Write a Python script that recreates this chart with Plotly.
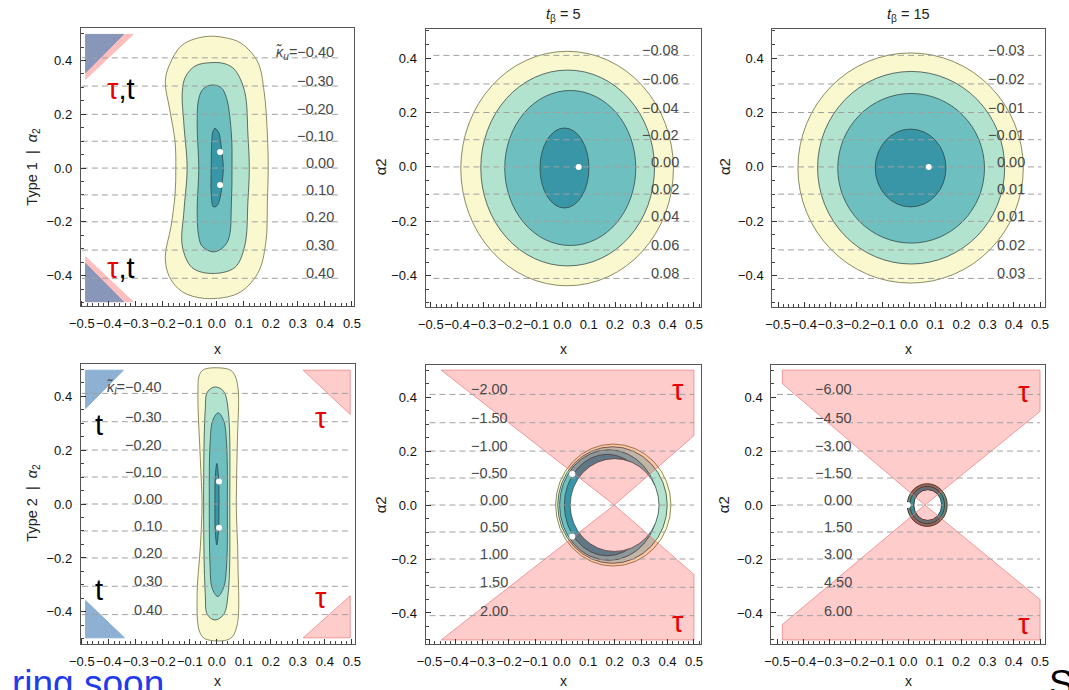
import plotly.graph_objects as go

# ---------------- data ----------------
X_TICKS = [-0.5, -0.4, -0.3, -0.2, -0.1, 0.0, 0.1, 0.2, 0.3, 0.4, 0.5]
Y_TICKS = [-0.4, -0.2, 0.0, 0.2, 0.4]
LEVEL_Y = [0.41, 0.305, 0.2, 0.1, 0.0, -0.1, -0.2, -0.305, -0.41]

KU_LEVELS = [-0.40, -0.30, -0.20, -0.10, 0.00, 0.10, 0.20, 0.30, 0.40]
P2_LEVELS = [-0.08, -0.06, -0.04, -0.02, 0.00, 0.02, 0.04, 0.06, 0.08]
P3_LEVELS = [-0.03, -0.02, -0.01, -0.01, 0.00, 0.01, 0.01, 0.02, 0.03]
KL_LEVELS = [-0.40, -0.30, -0.20, -0.10, 0.00, 0.10, 0.20, 0.30, 0.40]
P5_LEVELS = [-2.00, -1.50, -1.00, -0.50, 0.00, 0.50, 1.00, 1.50, 2.00]
P6_LEVELS = [-6.00, -4.50, -3.00, -1.50, 0.00, 1.50, 3.00, 4.50, 6.00]

# panel 1 (Type 1, tb=1) contour outlines, outer -> inner
P1_C1_X = [-0.043, 0.03, 0.09, 0.151, 0.175, 0.187, 0.19, 0.187, 0.181, 0.151, 0.078, -0.043, -0.128, -0.176, -0.191, -0.17, -0.155, -0.152, -0.155, -0.175, -0.191, -0.176, -0.128]
P1_C1_Y = [0.489, 0.485, 0.464, 0.395, 0.284, 0.123, 0.0, -0.123, -0.28, -0.392, -0.466, -0.485, -0.46, -0.404, -0.33, -0.218, -0.1, 0.0, 0.1, 0.22, 0.321, 0.383, 0.458]
P1_C2_X = [-0.025, 0.03, 0.066, 0.103, 0.115, 0.12, 0.115, 0.103, 0.066, -0.019, -0.092, -0.128, -0.122, -0.11, -0.122, -0.128, -0.116, -0.08]
P1_C2_Y = [0.392, 0.388, 0.366, 0.284, 0.123, 0.0, -0.123, -0.29, -0.37, -0.392, -0.37, -0.29, -0.16, 0.0, 0.16, 0.284, 0.34, 0.38]
P1_C3_X = [-0.019, 0.015, 0.036, 0.054, 0.056, 0.054, 0.042, 0.01, -0.019, -0.055, -0.067, -0.073, -0.067, -0.073, -0.067, -0.05]
P1_C3_Y = [0.309, 0.3, 0.259, 0.123, 0.0, -0.123, -0.268, -0.305, -0.311, -0.29, -0.256, -0.16, 0.0, 0.16, 0.259, 0.295]
P1_C4_X = [-0.007, 0.008, 0.012, 0.02, 0.024, 0.02, 0.012, 0.0, -0.013, -0.021, -0.021, -0.019, -0.015]
P1_C4_Y = [0.148, 0.13, 0.11, 0.05, 0.0, -0.05, -0.11, -0.14, -0.144, -0.094, 0.0, 0.098, 0.135]
P1_DOTS_X = [0.012, 0.012]
P1_DOTS_Y = [0.06, -0.063]

# panel 4 (Type 2, tb=1) contour outlines
P4_C1_X = [-0.045, 0.042, 0.062, 0.078, 0.076, 0.072, 0.078, 0.074, 0.048, -0.043, -0.065, -0.073, -0.061, -0.055, -0.061, -0.07, -0.064]
P4_C1_Y = [0.5, 0.5, 0.485, 0.434, 0.225, 0.0, -0.207, -0.454, -0.5, -0.5, -0.47, -0.331, -0.158, 0.0, 0.163, 0.41, 0.48]
P4_C2_X = [-0.007, 0.025, 0.042, 0.048, 0.042, 0.025, -0.007, -0.035, -0.043, -0.049, -0.043, -0.035]
P4_C2_Y = [0.434, 0.418, 0.348, 0.0, -0.331, -0.41, -0.43, -0.41, -0.331, 0.0, 0.348, 0.415]
P4_C3_X = [0.005, 0.025, 0.036, 0.039, 0.036, 0.025, 0.003, -0.018, -0.025, -0.028, -0.025, -0.015]
P4_C3_Y = [0.338, 0.31, 0.225, 0.0, -0.23, -0.31, -0.343, -0.31, -0.23, 0.0, 0.225, 0.31]
P4_C4_X = [0.0, 0.006, 0.008, 0.006, 0.0, -0.006, -0.007, -0.006]
P4_C4_Y = [0.15, 0.1, 0.0, -0.1, -0.152, -0.1, 0.0, 0.1]
P4_DOTS_X = [0.008, 0.008]
P4_DOTS_Y = [0.083, -0.088]

# panel 2 / 3 elliptical contours (outer -> inner)
P2_CX = [0.018, 0.02, 0.03, 0.008]
P2_CY = [-0.006, -0.004, -0.004, -0.004]
P2_RX = [0.404, 0.33, 0.249, 0.093]
P2_RY = [0.431, 0.36, 0.285, 0.147]
P2_DOT = (0.062, 0.0)
P3_CX = [0.006, 0.008, 0.008, 0.006]
P3_CY = [-0.004, -0.003, -0.005, -0.004]
P3_RX = [0.43, 0.357, 0.28, 0.135]
P3_RY = [0.423, 0.354, 0.275, 0.143]
P3_DOT = (0.075, 0.0)

# panel 5 / 6 rings (outer -> inner)
P5_CX = [0.195, 0.192, 0.178, 0.172, 0.2]
P5_RX = [0.218, 0.207, 0.186, 0.162, 0.168]
P5_RY = [0.226, 0.216, 0.205, 0.188, 0.172]
P5_DOTS_X = [0.04, 0.04]
P5_DOTS_Y = [0.115, -0.117]
P6_CX = [0.071, 0.071, 0.073]
P6_RX = [0.076, 0.066, 0.053]
P6_RY = [0.079, 0.069, 0.057]
P6_DOTS_X = [-0.003]
P6_DOTS_Y = [0.0]

# excluded regions (tau / t)
P1_PINK_TOP_X = [-0.486, -0.31, -0.486]
P1_PINK_TOP_Y = [0.497, 0.497, 0.33]
P1_BLUE_TOP_X = [-0.486, -0.346, -0.486]
P1_BLUE_TOP_Y = [0.497, 0.497, 0.355]
P1_PINK_BOT_X = [-0.486, -0.31, -0.486]
P1_PINK_BOT_Y = [-0.497, -0.497, -0.33]
P1_BLUE_BOT_X = [-0.486, -0.346, -0.486]
P1_BLUE_BOT_Y = [-0.497, -0.497, -0.355]

P4_BLUE_TOP_X = [-0.486, -0.346, -0.486]
P4_BLUE_TOP_Y = [0.496, 0.496, 0.354]
P4_BLUE_BOT_X = [-0.486, -0.342, -0.486]
P4_BLUE_BOT_Y = [-0.496, -0.496, -0.358]
P4_PINK_TOP_X = [0.32, 0.494, 0.494]
P4_PINK_TOP_Y = [0.496, 0.496, 0.332]
P4_PINK_BOT_X = [0.32, 0.494, 0.494]
P4_PINK_BOT_Y = [-0.496, -0.496, -0.34]

P5_PINK_TOP_X = [-0.456, 0.5, 0.5, 0.199]
P5_PINK_TOP_Y = [0.5, 0.5, 0.257, 0.0]
P5_PINK_BOT_X = [-0.456, 0.5, 0.5, 0.199]
P5_PINK_BOT_Y = [-0.5, -0.5, -0.257, 0.0]
P6_PINK_TOP_X = [-0.48, 0.5, 0.5, 0.062, -0.48]
P6_PINK_TOP_Y = [0.5, 0.5, 0.347, 0.0, 0.45]
P6_PINK_BOT_X = [-0.48, 0.5, 0.5, 0.062, -0.48]
P6_PINK_BOT_Y = [-0.5, -0.5, -0.35, 0.0, -0.443]

# ---------------- styling ----------------
W, H = 1069, 690
FONT = "Liberation Sans, Arial, sans-serif"
YEL = "rgb(250,248,206)"
GRN = "rgb(178,227,207)"
TEA = "rgb(110,191,192)"
DRK = "rgb(57,150,167)"
EDGE = "rgba(45,65,65,0.75)"
EDGE_OUT = "rgba(120,120,75,0.85)"
PINK = "rgba(255,0,0,0.2)"
PINK_EDGE = "rgba(235,120,120,0.7)"
BLUE1 = "rgb(136,151,185)"
BLUE2 = "rgb(141,176,211)"
PINK1 = "rgb(255,190,190)"
DASH = "rgb(160,160,160)"
LABEL = "rgb(72,72,72)"

# panel boxes in pixels: (left, top, right, bottom), plus axis ranges
PANELS = [
    dict(box=(70, 28, 348, 306), xr=[-0.504, 0.507], yr=[-0.513, 0.521]),
    dict(box=(421, 29, 701, 307), xr=[-0.52, 0.525], yr=[-0.515, 0.507]),
    dict(box=(774, 29, 1052, 307), xr=[-0.522, 0.52], yr=[-0.515, 0.507]),
    dict(box=(70, 364, 349, 644), xr=[-0.504, 0.511], yr=[-0.519, 0.519]),
    dict(box=(421, 365, 701, 644), xr=[-0.515, 0.525], yr=[-0.515, 0.519]),
    dict(box=(773, 365, 1052, 644), xr=[-0.522, 0.52], yr=[-0.515, 0.519]),
]


def fmt(v, nd=1):
    s = f"{v:.{nd}f}"
    if s.startswith("-"):
        s = "\u2212" + s[1:]
    return s


fig = go.Figure()
layout = dict(width=W, height=H, margin=dict(l=0, r=0, t=0, b=0),
              paper_bgcolor="white", plot_bgcolor="white", showlegend=False,
              font=dict(family=FONT, color="#222"))
shapes = []
annotations = []

for i, p in enumerate(PANELS):
    l, t, r, b = p["box"]
    n = "" if i == 0 else str(i + 1)
    common = dict(showline=True, mirror=True, linecolor="#555", linewidth=1,
                  ticks="inside", ticklen=5, tickwidth=1, tickcolor="#333",
                  showgrid=False, zeroline=False, fixedrange=True,
                  tickfont=dict(family=FONT, size=13, color="#111"),
                  ticklabelstandoff=5)
    layout["xaxis" + n] = dict(common, domain=[l / W, r / W], range=p["xr"],
                               anchor="y" + n, tickmode="array", tickvals=X_TICKS,
                               ticktext=[fmt(v) for v in X_TICKS], tickangle=0,
                               minor=dict(ticks="inside", ticklen=3, tickcolor="#444",
                                          tickmode="linear", tick0=0, dtick=0.02))
    layout["yaxis" + n] = dict(common, domain=[1 - b / H, 1 - t / H], range=p["yr"],
                               anchor="x" + n, tickmode="array", tickvals=Y_TICKS,
                               ticktext=[fmt(v) for v in Y_TICKS],
                               minor=dict(ticks="inside", ticklen=3, tickcolor="#444",
                                          tickmode="linear", tick0=0, dtick=0.05))


def ax(i):
    return ("x" if i == 0 else f"x{i+1}"), ("y" if i == 0 else f"y{i+1}")


def poly(i, xs, ys, fill, line, width=1, spline=False):
    xa, ya = ax(i)
    fig.add_trace(go.Scatter(x=xs + xs[:1], y=ys + ys[:1], xaxis=xa, yaxis=ya,
                             mode="lines", fill="toself", fillcolor=fill,
                             line=dict(color=line, width=width,
                                       shape="spline" if spline else "linear",
                                       smoothing=1.0),
                             hoverinfo="skip"))


def dots(i, xs, ys):
    xa, ya = ax(i)
    fig.add_trace(go.Scatter(x=xs, y=ys, xaxis=xa, yaxis=ya, mode="markers",
                             marker=dict(color="white", size=6, line=dict(width=0)),
                             hoverinfo="skip"))


def ellipses(i, cx, cy, rx, ry, fills, lines):
    xa, ya = ax(i)
    for k in range(len(cx)):
        shapes.append(dict(type="circle", xref=xa, yref=ya, layer="below",
                           x0=cx[k] - rx[k], x1=cx[k] + rx[k],
                           y0=cy[k] - ry[k], y1=cy[k] + ry[k],
                           fillcolor=fills[k], line=dict(color=lines[k], width=1)))


def dashes(i, x0, x1):
    xa, ya = ax(i)
    xs, ys = [], []
    for yv in LEVEL_Y:
        xs += [x0, x1, None]
        ys += [yv, yv, None]
    fig.add_trace(go.Scatter(x=xs, y=ys, xaxis=xa, yaxis=ya, mode="lines",
                             line=dict(color=DASH, width=1, dash="6px,4px"),
                             hoverinfo="skip"))


def level_labels(i, xpos, texts):
    xa, ya = ax(i)
    for yv, tx in zip(LEVEL_Y, texts):
        annotations.append(dict(x=xpos, y=yv, xref=xa, yref=ya, text=tx,
                                showarrow=False, xanchor="right", yanchor="middle",
                                yshift=5, font=dict(family=FONT, size=14.5, color=LABEL)))


# ---- panel 1 ----
poly(0, P1_PINK_TOP_X, P1_PINK_TOP_Y, PINK1, PINK1)
poly(0, P1_BLUE_TOP_X, P1_BLUE_TOP_Y, BLUE1, BLUE1)
poly(0, P1_PINK_BOT_X, P1_PINK_BOT_Y, PINK1, PINK1)
poly(0, P1_BLUE_BOT_X, P1_BLUE_BOT_Y, BLUE1, BLUE1)
poly(0, P1_C1_X, P1_C1_Y, YEL, EDGE_OUT, spline=True)
poly(0, P1_C2_X, P1_C2_Y, GRN, EDGE, spline=True)
poly(0, P1_C3_X, P1_C3_Y, TEA, EDGE, spline=True)
poly(0, P1_C4_X, P1_C4_Y, DRK, EDGE, spline=True)
dashes(0, -0.5, 0.453)
dots(0, P1_DOTS_X, P1_DOTS_Y)
level_labels(0, 0.442, ["<i>κ̃</i><sub><i>u</i></sub>=" + fmt(KU_LEVELS[0], 2)] + [fmt(v, 2) for v in KU_LEVELS[1:]])

# ---- panel 2 ----
ellipses(1, P2_CX, P2_CY, P2_RX, P2_RY, [YEL, GRN, TEA, DRK], [EDGE_OUT, EDGE, EDGE, EDGE])
dashes(1, -0.49, 0.5)
dots(1, [P2_DOT[0]], [P2_DOT[1]])
level_labels(1, 0.45, [fmt(v, 2) for v in P2_LEVELS])

# ---- panel 3 ----
ellipses(2, P3_CX, P3_CY, P3_RX, P3_RY, [YEL, GRN, TEA, DRK], [EDGE_OUT, EDGE, EDGE, EDGE])
dashes(2, -0.5, 0.505)
dots(2, [P3_DOT[0]], [P3_DOT[1]])
level_labels(2, 0.45, [fmt(v, 2) for v in P3_LEVELS])

# ---- panel 4 ----
poly(3, P4_BLUE_TOP_X, P4_BLUE_TOP_Y, BLUE2, BLUE2)
poly(3, P4_BLUE_BOT_X, P4_BLUE_BOT_Y, BLUE2, BLUE2)
poly(3, P4_PINK_TOP_X, P4_PINK_TOP_Y, PINK, PINK_EDGE)
poly(3, P4_PINK_BOT_X, P4_PINK_BOT_Y, PINK, PINK_EDGE)
poly(3, P4_C1_X, P4_C1_Y, YEL, EDGE_OUT, spline=True)
poly(3, P4_C2_X, P4_C2_Y, GRN, EDGE, spline=True)
poly(3, P4_C3_X, P4_C3_Y, TEA, EDGE, spline=True)
poly(3, P4_C4_X, P4_C4_Y, DRK, EDGE, spline=True)
dashes(3, -0.5, 0.497)
dots(3, P4_DOTS_X, P4_DOTS_Y)
level_labels(3, -0.195, ["<i>κ̃</i><sub><i>l</i></sub>=" + fmt(KL_LEVELS[0], 2)] + [fmt(v, 2) for v in KL_LEVELS[1:]])

# ---- panel 5 ----
ellipses(4, P5_CX, [0.0] * len(P5_CX), P5_RX, P5_RY, [YEL, GRN, TEA, DRK, "white"],
         [EDGE_OUT, EDGE, EDGE, EDGE, EDGE])
poly(4, P5_PINK_TOP_X, P5_PINK_TOP_Y, PINK, PINK_EDGE)
poly(4, P5_PINK_BOT_X, P5_PINK_BOT_Y, PINK, PINK_EDGE)
dashes(4, -0.5, 0.5)
dots(4, P5_DOTS_X, P5_DOTS_Y)
level_labels(4, -0.196, [fmt(v, 2) for v in P5_LEVELS])

# ---- panel 6 ----
ellipses(5, P6_CX, [0.0] * len(P6_CX), P6_RX, P6_RY,
         ["rgb(120,132,112)", "rgb(62,140,148)", "white"],
         ["rgb(60,62,50)", "rgb(50,70,70)", "rgb(50,60,55)"])
poly(5, P6_PINK_TOP_X, P6_PINK_TOP_Y, PINK, PINK_EDGE)
poly(5, P6_PINK_BOT_X, P6_PINK_BOT_Y, PINK, PINK_EDGE)
dashes(5, -0.5, 0.5)
dots(5, P6_DOTS_X, P6_DOTS_Y)
level_labels(5, -0.206, [fmt(v, 2) for v in P6_LEVELS])

# ---- region labels ----
RED = "rgb(235,0,0)"
tau_t = f"<span style='color:{RED}'>τ</span>,t"
for (i, x, y, txt) in [(0, -0.355, 0.294, tau_t), (0, -0.355, -0.373, tau_t),
                       (3, -0.437, 0.293, "t"), (3, -0.437, -0.319, "t"),
                       (3, 0.387, 0.317, f"<span style='color:{RED}'>τ</span>"),
                       (3, 0.387, -0.349, f"<span style='color:{RED}'>τ</span>"),
                       (4, 0.44, 0.425, f"<span style='color:{RED}'>τ</span>"),
                       (4, 0.44, -0.433, f"<span style='color:{RED}'>τ</span>"),
                       (5, 0.44, 0.42, f"<span style='color:{RED}'>τ</span>"),
                       (5, 0.44, -0.44, f"<span style='color:{RED}'>τ</span>")]:
    xa, ya = ax(i)
    annotations.append(dict(x=x, y=y, xref=xa, yref=ya, text=txt, showarrow=False,
                            xanchor="center", yanchor="middle",
                            font=dict(family=FONT, size=29, color="black")))


# ---- axis titles / panel titles (paper placement) ----
def paper_text(px, py, text, size=14, angle=0, color="#222", xanchor="center", yanchor="middle"):
    annotations.append(dict(x=px / W, y=1 - py / H, xref="paper", yref="paper", text=text,
                            showarrow=False, textangle=angle, xanchor=xanchor, yanchor=yanchor,
                            font=dict(family=FONT, size=size, color=color)))


for cx in (209, 561, 913):
    paper_text(cx, 349, "x", 14)
    paper_text(cx, 681, "x", 14)
paper_text(21, 167, "Type 1  |  <i>α</i><sub>2</sub>", 14.5, -90)
paper_text(21, 503, "Type 2  |  <i>α</i><sub>2</sub>", 14.5, -90)
for (px, py) in [(375, 167), (725, 167), (375, 505), (724, 505)]:
    paper_text(px, py, "α2", 15, -90)
paper_text(561, 15, "<i>t</i><sub>β</sub> = 5", 14.5)
paper_text(913, 15, "<i>t</i><sub>β</sub> = 15", 14.5)
paper_text(-2, 661, "ring soon", 37, 0, "rgb(30,60,235)", "left", "top")
paper_text(1054, 661, "S", 37, 0, "black", "left", "top")

layout["shapes"] = shapes
layout["annotations"] = annotations
fig.update_layout(**layout)
fig.write_html("out.html")
